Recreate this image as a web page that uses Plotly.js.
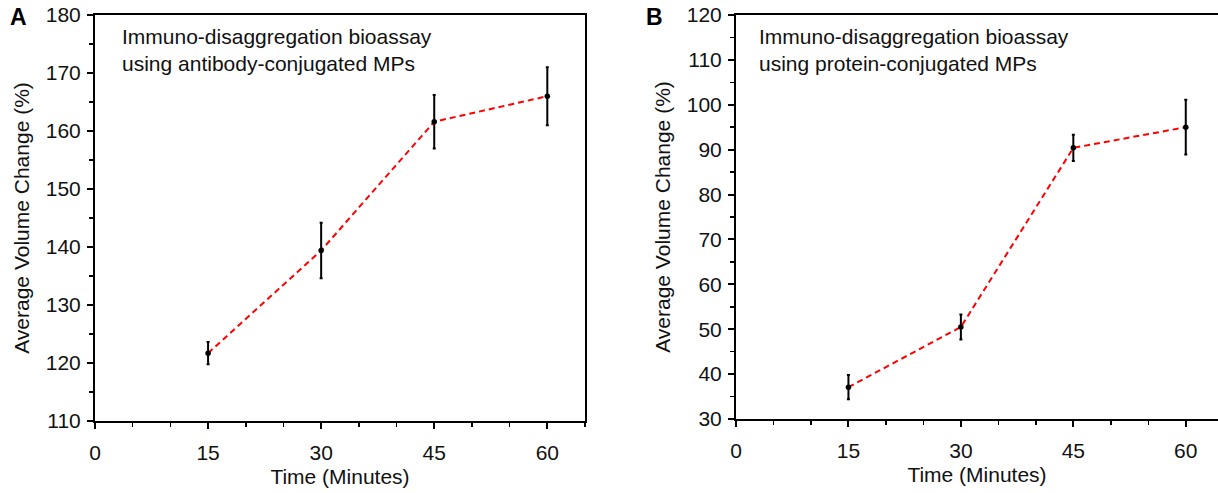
<!DOCTYPE html>
<html>
<head>
<meta charset="utf-8">
<script src="https://cdn.plot.ly/plotly-3.0.1.min.js"></script>
<style>html,body{margin:0;padding:0;background:#fff;}#chart{width:1218px;height:493px;}</style>
</head>
<body>
<div id="chart"></div>
<script>
// ---- data ----
const timeMinutes = [15, 30, 45, 60];
const antibodyMean = [121.7, 139.4, 161.6, 166.0];
const antibodyErr = [1.9, 4.8, 4.6, 5.0];
const proteinMean = [37.1, 50.5, 90.4, 95.0];
const proteinErr = [2.7, 2.8, 2.9, 6.1];
const xTickVals = [0, 15, 30, 45, 60];
const xTickText = ['0', '15', '30', '45', '60'];
const panelLabels = ['A', 'B'];
const panelNotes = [
  'Immuno-disaggregation bioassay<br>using antibody-conjugated MPs',
  'Immuno-disaggregation bioassay<br>using protein-conjugated MPs'
];
const xTitle = 'Time (Minutes)';
const yTitle = 'Average Volume Change (%)';

const FONT = 'Liberation Sans, Arial, sans-serif';
const W = 1218, H = 493;

function series(x, y, err, xa, ya) {
  return {
    type: 'scatter', mode: 'lines+markers', x: x, y: y,
    xaxis: xa, yaxis: ya, showlegend: false,
    line: {color: '#ff0000', width: 2, dash: '6px,4px'},
    marker: {color: '#000', size: 5.5},
    error_y: {type: 'data', array: err, visible: true, color: '#000', thickness: 2, width: 1.5}
  };
}

const data = [
  series(timeMinutes, antibodyMean, antibodyErr, 'x', 'y'),
  series(timeMinutes, proteinMean, proteinErr, 'x2', 'y2')
];

function xAxis(domain, range, anchor) {
  return {
    domain: domain, range: range, anchor: anchor,
    tickvals: xTickVals, ticktext: xTickText,
    ticks: 'outside', ticklen: 6, tickwidth: 2, tickcolor: '#000',
    minor: {dtick: 5, tick0: 0, ticks: 'outside', ticklen: 4, tickwidth: 1.5, tickcolor: '#000'},
    showline: true, linecolor: '#000', linewidth: 2, mirror: true,
    showgrid: false, zeroline: false, ticklabelstandoff: 6,
    tickfont: {family: FONT, size: 21, color: '#111'},
    title: {text: xTitle, font: {family: FONT, size: 21, color: '#111'}, standoff: 6}
  };
}
function yAxis(domain, range, dtick, anchor, mirror) {
  return {
    domain: domain, range: range, anchor: anchor, dtick: dtick, tick0: range[0],
    ticks: 'outside', ticklen: 6, tickwidth: 2, tickcolor: '#000',
    minor: {dtick: dtick / 2, ticks: 'outside', ticklen: 4, tickwidth: 1.5, tickcolor: '#000'},
    showline: true, linecolor: '#000', linewidth: 2, mirror: mirror,
    showgrid: false, zeroline: false, ticklabelstandoff: 2,
    tickfont: {family: FONT, size: 21, color: '#111'},
    title: {text: yTitle, font: {family: FONT, size: 21, color: '#111'}, standoff: 10}
  };
}

const layout = {
  width: W, height: H,
  margin: {l: 0, r: 0, t: 0, b: 0},
  paper_bgcolor: '#fff', plot_bgcolor: '#fff',
  font: {family: FONT, color: '#111'},
  xaxis: xAxis([95 / W, 585 / W], [0, 65], 'y'),
  yaxis: yAxis([1 - 421 / H, 1 - 15 / H], [110, 180], 10, 'x', true),
  xaxis2: xAxis([736 / W, 1], [0, 64.3], 'y2'),
  yaxis2: yAxis([1 - 419 / H, 1 - 15 / H], [30, 120], 10, 'x2', false),
  annotations: [
    {text: '<b>' + panelLabels[0] + '</b>', xref: 'paper', yref: 'paper', x: 18 / W, y: 1 - 17 / H,
     xanchor: 'center', yanchor: 'middle', showarrow: false, font: {family: FONT, size: 23, color: '#000'}},
    {text: '<b>' + panelLabels[1] + '</b>', xref: 'paper', yref: 'paper', x: 654 / W, y: 1 - 17 / H,
     xanchor: 'center', yanchor: 'middle', showarrow: false, font: {family: FONT, size: 23, color: '#000'}},
    {text: panelNotes[0], xref: 'paper', yref: 'paper', x: 120 / W, y: 1 - 23 / H,
     xanchor: 'left', yanchor: 'top', align: 'left', showarrow: false, font: {family: FONT, size: 21, color: '#111'}},
    {text: panelNotes[1], xref: 'paper', yref: 'paper', x: 757 / W, y: 1 - 23 / H,
     xanchor: 'left', yanchor: 'top', align: 'left', showarrow: false, font: {family: FONT, size: 21, color: '#111'}}
  ]
};

Plotly.newPlot('chart', data, layout, {staticPlot: true, displayModeBar: false});
</script>
</body>
</html>
